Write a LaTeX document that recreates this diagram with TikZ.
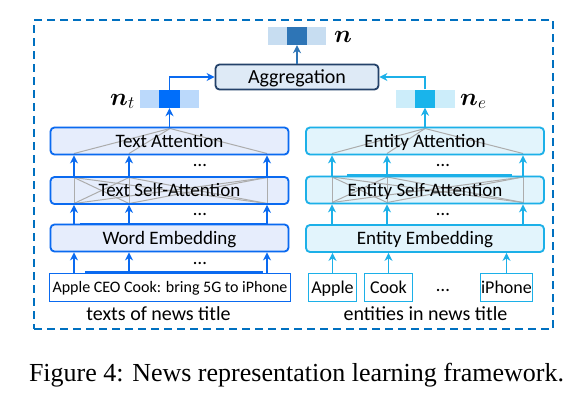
\RequirePackage{fix-cm}
\documentclass[tikz,border=0pt]{standalone}
\usepackage{bm}
\usepackage{fontspec}
\setmainfont{Carlito}
\newfontfamily\capfont{Liberation Serif}
\usetikzlibrary{arrows.meta}
\pgfdeclarelayer{bg}
\pgfsetlayers{bg,main}
\definecolor{blueL}{RGB}{10,106,240}
\definecolor{fillL}{RGB}{230,237,252}
\definecolor{lightL}{RGB}{187,217,251}
\definecolor{darkL}{RGB}{0,110,250}
\definecolor{blueR}{RGB}{28,176,232}
\definecolor{fillR}{RGB}{226,244,252}
\definecolor{lightR}{RGB}{204,237,250}
\definecolor{darkR}{RGB}{25,180,235}
\definecolor{aggB}{RGB}{35,65,105}
\definecolor{aggF}{RGB}{222,234,246}
\definecolor{lightN}{RGB}{199,221,241}
\definecolor{darkN}{RGB}{46,117,182}
\definecolor{dashC}{RGB}{0,112,192}
\definecolor{grayL}{RGB}{172,172,172}
\begin{document}
\begin{tikzpicture}[x=1pt,y=-1pt,
  layer/.style={line width=1.8pt, rounded corners=4pt, minimum width=238pt,
    minimum height=27pt, inner sep=0pt, font=\fontsize{19}{22}\selectfont,
    text height=12.2pt, text depth=0pt},
  layerL/.style={layer, draw=blueL},
  layerR/.style={layer, draw=blueR},
  inbox/.style={draw=blueL, line width=1.3pt, minimum width=241pt, minimum height=28pt,
    inner sep=0pt, font=\fontsize{16}{19}\selectfont, text height=10.3pt, text depth=0pt},
  entbox/.style={draw=blueR, line width=1.3pt, minimum width=48pt, minimum height=28pt,
    inner sep=0pt, font=\fontsize{18}{21}\selectfont, text height=11.6pt, text depth=0pt},
  lbl/.style={inner sep=0pt, font=\fontsize{20}{23}\selectfont, text height=12.9pt, text depth=0pt},
  dotsn/.style={inner sep=0pt, anchor=base, font=\fontsize{19}{22}\selectfont},
  agg/.style={draw=aggB, fill=aggF, line width=1.8pt, rounded corners=4pt, minimum width=163pt,
    minimum height=25pt, inner sep=0pt, font=\fontsize{20}{23}\selectfont,
    text height=12.9pt, text depth=0pt},
  cell/.style={inner sep=0pt, minimum height=18pt},
  vlab/.style={inner sep=0pt, font=\fontsize{25}{28}\selectfont},
  tip/.style={-{Stealth[length=8pt,width=8pt,inset=2.5pt]}},
  arrL/.style={draw=blueL, line width=1.8pt, tip},
  arrR/.style={draw=blueR, line width=1.8pt, tip},
  arrN/.style={draw=darkN, line width=1.8pt, tip},
  grayln/.style={draw=grayL, line width=1pt},
  frame/.style={draw=dashC, line width=1.8pt, dash pattern=on 8pt off 5pt,
    minimum width=519pt, minimum height=309pt, inner sep=0pt}
]
\useasboundingbox (0,0) rectangle (585,400);

% frame
\node[frame] (frame) at (293.5,174.5) {};

% columns
\coordinate (l1) at (74,0);
\coordinate (l2) at (129,0);
\coordinate (l3) at (267,0);
\coordinate (r1) at (332,0);
\coordinate (r2) at (387,0);
\coordinate (r3) at (523,0);

% left column
\node[layerL] (ta) at (169.5,141) {Text Attention};
\node[layerL] (tsa) at (169.5,190.5) {Text Self-Attention};
\node[layerL] (we) at (169.5,238) {Word Embedding};
\node[inbox] (in) at (170,287.5) {Apple CEO Cook: bring 5G to iPhone};
\node[lbl] (tl) at (158.5,314) {texts of news title};

% right column
\node[layerR] (ea) at (425,141) {Entity Attention};
\node[layerR] (esa) at (425,190) {Entity Self-Attention};
\node[layerR] (ee) at (425,238.5) {Entity Embedding};
\node[entbox] (apple) at (332.5,287.5) {Apple};
\node[entbox] (cook) at (388.5,287.5) {Cook};
\node[entbox, minimum width=52pt] (iphone) at (506.5,287.5) {iPhone};
\node[lbl] (el) at (425.5,314) {entities in news title};

% aggregation and vectors
\node[agg] (agg) at (297,77) {Aggregation};
\node[cell, fill=lightL, minimum width=59pt] (ntv) at (169.5,99) {};
\node[cell, fill=darkL, minimum width=21pt] (ntd) at (169.5,99) {};
\node[cell, fill=lightR, minimum width=59pt] (nev) at (425.5,98.5) {};
\node[cell, fill=darkR, minimum width=20pt] (ned) at (425,98.5) {};
\node[cell, fill=lightN, minimum width=58pt] (nv) at (297,36) {};
\node[cell, fill=darkN, minimum width=20pt] (nd) at (297,36) {};
\node[vlab, anchor=base west] (ntl) at (110,105) {$\bm{n}_t$};
\node[vlab, anchor=base west] (nel) at (460,105) {$\bm{n}_e$};
\node[vlab, anchor=base west] (nl) at (334,42) {$\bm{n}$};

% dots
\node[dotsn] (d1) at (200,166.5) {…};
\node[dotsn] (d2) at (200,215) {…};
\node[dotsn] (d3) at (200,264) {…};
\node[dotsn] (d4) at (443,166.5) {…};
\node[dotsn] (d5) at (443,215) {…};
\node[dotsn] (d6) at (443,291) {…};

% fills and gray attention lines (behind)
\begin{pgfonlayer}{bg}
  \foreach \b in {ta,tsa,we}
    \fill[fillL, rounded corners=4pt] (\b.north west) rectangle (\b.south east);
  \foreach \b in {ea,esa,ee}
    \fill[fillR, rounded corners=4pt] (\b.north west) rectangle (\b.south east);
  \foreach \x in {74,129,267} \draw[grayln] (\x,153.5) -- (170,128.5);
  \foreach \a in {74,129,267} \foreach \b in {74,129,267}
    \draw[grayln] (\a,203.5) -- (\b,177.5);
  \foreach \x in {332,387,523} \draw[grayln] (\x,153.5) -- (425,128.5);
  \foreach \a in {332,387,523} \foreach \b in {332,387,523}
    \draw[grayln] (\a,202.5) -- (\b,177);
\end{pgfonlayer}

% thick segments on borders
\draw[blueL, line width=2.6pt] (80,224) -- (268,224);
\draw[blueL, line width=2.6pt] (85,272.5) -- (263,272.5);
\draw[blueR, line width=2.6pt] (347,175.5) -- (512,175.5);

% left arrows
\foreach \c in {l1,l2,l3} {
  \draw[arrL] (in.north -| \c) -- (we.south -| \c);
  \draw[arrL] (we.north -| \c) -- (tsa.south -| \c);
  \draw[arrL] (tsa.north -| \c) -- (ta.south -| \c);
}
\draw[arrL] (ta.north -| ntd) -- (ntd.south);
\draw[arrL] (ntd.north) |- (agg.west);

% right arrows
\draw[arrR] (apple.north) -- (ee.south -| apple);
\draw[arrR] (cook.north) -- (ee.south -| cook);
\draw[arrR] (iphone.north) -- (ee.south -| iphone);
\foreach \c in {r1,r2,r3} {
  \draw[arrR] (ee.north -| \c) -- (esa.south -| \c);
  \draw[arrR] (esa.north -| \c) -- (ea.south -| \c);
}
\draw[arrR] (ea.north -| ned) -- (ned.south);
\draw[arrR] (ned.north) |- (agg.east);

% top arrow
\draw[arrN] (agg.north) -- (nd.south);

% caption
\node[inner sep=0pt, anchor=base, font=\capfont\fontsize{26}{30}\selectfont] (cap) at (296.5,381)
  {Figure 4: News representation learning framework.};
\end{tikzpicture}
\end{document}
